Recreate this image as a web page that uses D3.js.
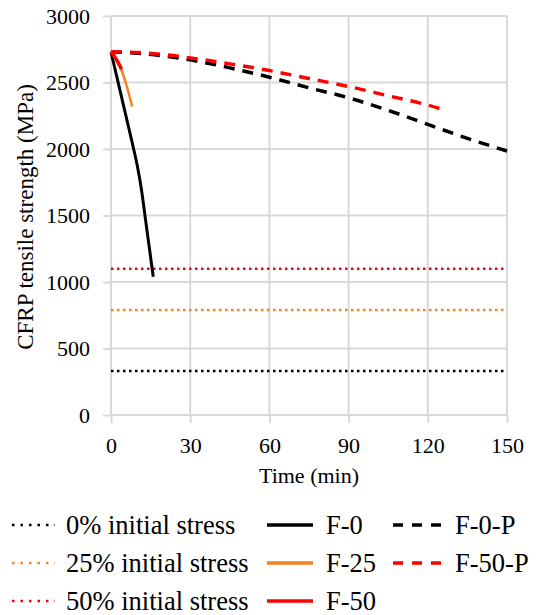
<!DOCTYPE html>
<html>
<head>
<meta charset="utf-8">
<script src="https://d3js.org/d3.v7.min.js"></script>
<style>
body { margin: 0; background: #fff; }
svg text { font-family: "Liberation Serif", "DejaVu Serif", serif; fill: #000; }
.grid line { stroke: #d9d9d9; stroke-width: 2; }
.axis line { stroke: #d9d9d9; stroke-width: 2; }
.axis path { display: none; }
.axis text { font-size: 22px; }
</style>
</head>
<body>
<div id="chart"></div>
<script>
// tick labels
var xTicks = [0, 30, 60, 90, 120, 150];
var yTicks = [0, 500, 1000, 1500, 2000, 2500, 3000];

// F-0 (time min, strength MPa)
var f0Time = [0, 2, 4, 6, 8, 10, 11.5, 13, 14.5, 16];
var f0Val = [2730, 2560, 2390, 2220, 2050, 1870, 1700, 1480, 1260, 1040];
// F-25
var f25Time = [0, 2, 4, 6, 8];
var f25Val = [2730, 2670, 2590, 2470, 2320];
// F-50
var f50Time = [0, 1.5, 3, 4];
var f50Val = [2730, 2690, 2640, 2600];
// F-0-P
var f0pTime = [0, 10, 20, 30, 45, 60, 75, 90, 105, 120, 135, 150];
var f0pVal = [2730, 2720, 2700, 2670, 2610, 2540, 2460, 2385, 2290, 2185, 2080, 1985];
// F-50-P
var f50pTime = [0, 10, 20, 30, 45, 60, 75, 90, 105, 120, 126];
var f50pVal = [2730, 2725, 2710, 2685, 2640, 2590, 2530, 2470, 2400, 2330, 2295];
// initial stress levels (horizontal dotted lines)
var stressNames = ["0% initial stress", "25% initial stress", "50% initial stress"];
var stressVal = [330, 790, 1100];
var stressColor = ["#000", "#f58220", "#ff0000"];

var width = 536, height = 615;
var serif = "'Liberation Serif', 'DejaVu Serif', serif";

var svg = d3.select("#chart").append("svg")
  .attr("width", width)
  .attr("height", height)
  .attr("font-family", serif);

var x = d3.scaleLinear().domain([0, 150]).range([111, 507]);
var y = d3.scaleLinear().domain([0, 3000]).range([415, 16]);

// gridlines
var grid = svg.append("g").attr("class", "grid");
grid.selectAll(".h").data(yTicks).enter().append("line")
  .attr("x1", x(0)).attr("x2", x(150))
  .attr("y1", function(d) { return y(d); })
  .attr("y2", function(d) { return y(d); });
grid.selectAll(".v").data(xTicks).enter().append("line")
  .attr("x1", function(d) { return x(d); })
  .attr("x2", function(d) { return x(d); })
  .attr("y1", y(3000)).attr("y2", y(0));

// axes
svg.append("g")
  .attr("class", "axis")
  .attr("transform", "translate(" + x(0) + ",0)")
  .call(d3.axisLeft(y).tickValues(yTicks).tickFormat(d3.format("d"))
    .tickSize(8).tickPadding(13).tickSizeOuter(0))
  .attr("font-family", serif)
  .attr("font-size", 22);

svg.append("g")
  .attr("class", "axis")
  .attr("transform", "translate(0," + y(0) + ")")
  .call(d3.axisBottom(x).tickValues(xTicks).tickFormat(d3.format("d"))
    .tickSize(8).tickPadding(14).tickSizeOuter(0))
  .attr("font-family", serif)
  .attr("font-size", 22);

// axis titles
svg.append("text")
  .attr("x", (x(0) + x(150)) / 2)
  .attr("y", 483)
  .attr("text-anchor", "middle")
  .style("font-size", "22px")
  .text("Time (min)");

svg.append("text")
  .attr("transform", "translate(33,217) rotate(-90)")
  .attr("text-anchor", "middle")
  .style("font-size", "23px")
  .text("CFRP tensile strength (MPa)");

// stress lines
svg.append("g").selectAll("line")
  .data(stressVal).enter().append("line")
  .attr("x1", x(0)).attr("x2", x(150))
  .attr("y1", function(d) { return y(d); })
  .attr("y2", function(d) { return y(d); })
  .attr("stroke", function(d, i) { return stressColor[i]; })
  .attr("stroke-width", 2.5)
  .attr("stroke-dasharray", "2.5,3.5");

var line = d3.line()
  .x(function(d) { return x(d[0]); })
  .y(function(d) { return y(d[1]); })
  .curve(d3.curveMonotoneX);

function zipSeries(t, v) { return t.map(function(d, i) { return [d, v[i]]; }); }

var series = [
  { name: "F-0-P", data: zipSeries(f0pTime, f0pVal), color: "#000", dash: "11,8", w: 3.5 },
  { name: "F-50-P", data: zipSeries(f50pTime, f50pVal), color: "#ff0000", dash: "11,8", w: 3.5 },
  { name: "F-0", data: zipSeries(f0Time, f0Val), color: "#000", dash: null, w: 3 },
  { name: "F-25", data: zipSeries(f25Time, f25Val), color: "#f58220", dash: null, w: 2.5 },
  { name: "F-50", data: zipSeries(f50Time, f50Val), color: "#ff0000", dash: null, w: 3.5 }
];

svg.append("g").selectAll("path")
  .data(series).enter().append("path")
  .attr("d", function(d) { return line(d.data); })
  .attr("fill", "none")
  .attr("stroke", function(d) { return d.color; })
  .attr("stroke-width", function(d) { return d.w; })
  .attr("stroke-dasharray", function(d) { return d.dash; });

// legend
var rowY = [534, 572, 610];
var legend = svg.append("g").attr("font-size", 26.5).attr("font-family", serif);

stressNames.forEach(function(n, i) {
  legend.append("line")
    .attr("x1", 12).attr("x2", 55)
    .attr("y1", rowY[i] - 9).attr("y2", rowY[i] - 9)
    .attr("stroke", stressColor[i]).attr("stroke-width", 2.5)
    .attr("stroke-dasharray", "2.5,6");
  legend.append("text").attr("x", 66).attr("y", rowY[i])
    .style("font-size", "26.5px").text(n);
});

var legItems = [
  { s: series[2], col: 0, row: 0 },
  { s: series[3], col: 0, row: 1 },
  { s: series[4], col: 0, row: 2 },
  { s: series[0], col: 1, row: 0 },
  { s: series[1], col: 1, row: 1 }
];
var colX = [267, 393];
legItems.forEach(function(d) {
  var lx = colX[d.col];
  var len = d.col === 0 ? 46 : 49;
  legend.append("line")
    .attr("x1", lx).attr("x2", lx + len)
    .attr("y1", rowY[d.row] - 9).attr("y2", rowY[d.row] - 9)
    .attr("stroke", d.s.color)
    .attr("stroke-width", 3.5)
    .attr("stroke-dasharray", d.s.dash ? "10,9" : null);
  legend.append("text")
    .attr("x", lx + len + 13)
    .attr("y", rowY[d.row])
    .style("font-size", "26.5px")
    .text(d.s.name);
});
</script>
</body>
</html>
